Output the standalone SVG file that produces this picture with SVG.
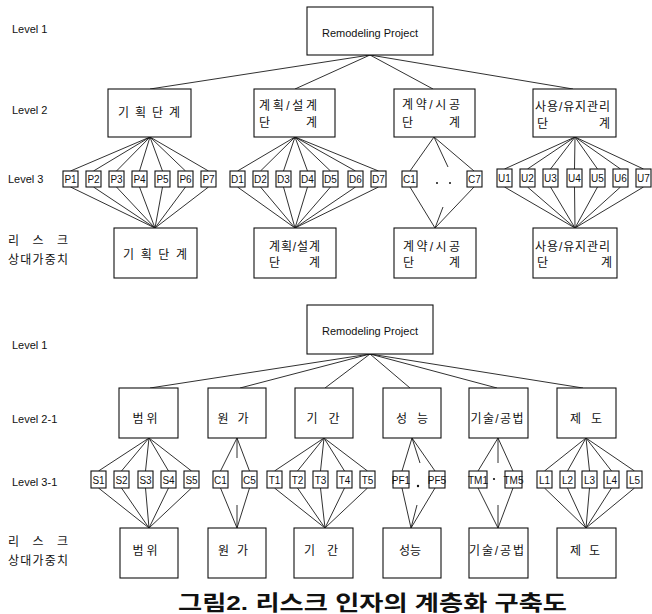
<svg xmlns="http://www.w3.org/2000/svg" width="652" height="614" viewBox="0 0 652 614">
<style>
.bg{fill:#fff}
.box{fill:#fff;stroke:#111;stroke-width:1.1}
.c line{stroke:#1a1a1a;stroke-width:0.9}
.lv{font-family:"Liberation Sans",Arial,sans-serif;font-size:11px;fill:#111}
.sm{font-family:"Liberation Sans",Arial,sans-serif;font-size:10px;fill:#111;text-anchor:middle}
.kr{font-family:"Liberation Sans","Noto Sans CJK KR",sans-serif;font-size:12px;fill:#111}
.km{font-family:"Liberation Sans","Noto Sans CJK KR",sans-serif;font-size:12px;fill:#111;text-anchor:middle}
.rt{font-family:"Liberation Sans",Arial,sans-serif;font-size:11px;fill:#111;text-anchor:middle}
.cap{font-family:"Liberation Sans","Noto Sans CJK KR",sans-serif;font-size:21px;font-weight:bold;fill:#111;text-anchor:middle}
.dot{fill:#111}
</style>
<rect class="bg" x="0" y="0" width="652" height="614"/>

<g id="labels">
<text class="lv" x="12" y="33">Level 1</text>
<text class="lv" x="12" y="114">Level 2</text>
<text class="lv" x="8" y="183">Level 3</text>
<text class="kr" x="8" y="245" font-size="13" textLength="60" lengthAdjust="spacing">리 스 크</text>
<text class="kr" x="8" y="264" textLength="60" lengthAdjust="spacing">상대가중치</text>
<text class="lv" x="12" y="349">Level 1</text>
<text class="lv" x="12" y="423">Level 2-1</text>
<text class="lv" x="12" y="486">Level 3-1</text>
<text class="kr" x="8" y="546" font-size="13" textLength="60" lengthAdjust="spacing">리 스 크</text>
<text class="kr" x="8" y="565" textLength="60" lengthAdjust="spacing">상대가중치</text>
</g>

<g id="connectors" class="c">
<line x1="370" y1="55" x2="150" y2="89"/>
<line x1="370" y1="55" x2="295" y2="89"/>
<line x1="370" y1="55" x2="433" y2="89"/>
<line x1="370" y1="55" x2="573" y2="89"/>
<line x1="150" y1="137" x2="70.5" y2="171"/>
<line x1="150" y1="137" x2="93.5" y2="171"/>
<line x1="150" y1="137" x2="116.5" y2="171"/>
<line x1="150" y1="137" x2="139.5" y2="171"/>
<line x1="150" y1="137" x2="162.5" y2="171"/>
<line x1="150" y1="137" x2="185.5" y2="171"/>
<line x1="150" y1="137" x2="208.5" y2="171"/>
<line x1="70.5" y1="187" x2="155" y2="228"/>
<line x1="93.5" y1="187" x2="155" y2="228"/>
<line x1="116.5" y1="187" x2="155" y2="228"/>
<line x1="139.5" y1="187" x2="155" y2="228"/>
<line x1="162.5" y1="187" x2="155" y2="228"/>
<line x1="185.5" y1="187" x2="155" y2="228"/>
<line x1="208.5" y1="187" x2="155" y2="228"/>
<line x1="295" y1="137" x2="237.5" y2="171"/>
<line x1="295" y1="137" x2="260.5" y2="171"/>
<line x1="295" y1="137" x2="283.5" y2="171"/>
<line x1="295" y1="137" x2="307.5" y2="171"/>
<line x1="295" y1="137" x2="330.5" y2="171"/>
<line x1="295" y1="137" x2="355.5" y2="171"/>
<line x1="295" y1="137" x2="378.5" y2="171"/>
<line x1="237.5" y1="187" x2="295" y2="228"/>
<line x1="260.5" y1="187" x2="295" y2="228"/>
<line x1="283.5" y1="187" x2="295" y2="228"/>
<line x1="307.5" y1="187" x2="295" y2="228"/>
<line x1="330.5" y1="187" x2="295" y2="228"/>
<line x1="355.5" y1="187" x2="295" y2="228"/>
<line x1="378.5" y1="187" x2="295" y2="228"/>
<line x1="434" y1="137" x2="410" y2="171"/>
<line x1="434" y1="137" x2="448" y2="167"/>
<line x1="434" y1="137" x2="474" y2="171"/>
<line x1="410" y1="187" x2="435" y2="228"/>
<line x1="443" y1="207" x2="435" y2="228"/>
<line x1="474" y1="187" x2="435" y2="228"/>
<line x1="575" y1="137" x2="504.5" y2="169"/>
<line x1="575" y1="137" x2="527.5" y2="169"/>
<line x1="575" y1="137" x2="550.5" y2="169"/>
<line x1="575" y1="137" x2="574.5" y2="169"/>
<line x1="575" y1="137" x2="597.5" y2="169"/>
<line x1="575" y1="137" x2="620.5" y2="169"/>
<line x1="575" y1="137" x2="643.5" y2="169"/>
<line x1="504.5" y1="187" x2="575" y2="228"/>
<line x1="527.5" y1="187" x2="575" y2="228"/>
<line x1="550.5" y1="187" x2="575" y2="228"/>
<line x1="574.5" y1="187" x2="575" y2="228"/>
<line x1="597.5" y1="187" x2="575" y2="228"/>
<line x1="620.5" y1="187" x2="575" y2="228"/>
<line x1="643.5" y1="187" x2="575" y2="228"/>

<line x1="370" y1="354" x2="150" y2="388"/>
<line x1="370" y1="354" x2="240" y2="388"/>
<line x1="370" y1="354" x2="325" y2="388"/>
<line x1="370" y1="354" x2="410" y2="388"/>
<line x1="370" y1="354" x2="497" y2="388"/>
<line x1="370" y1="354" x2="583" y2="388"/>
<line x1="149" y1="438" x2="98.5" y2="471"/>
<line x1="149" y1="438" x2="121.5" y2="471"/>
<line x1="149" y1="438" x2="145.5" y2="471"/>
<line x1="149" y1="438" x2="168.5" y2="471"/>
<line x1="149" y1="438" x2="191.5" y2="471"/>
<line x1="98.5" y1="488" x2="149" y2="528"/>
<line x1="121.5" y1="488" x2="149" y2="528"/>
<line x1="145.5" y1="488" x2="149" y2="528"/>
<line x1="168.5" y1="488" x2="149" y2="528"/>
<line x1="191.5" y1="488" x2="149" y2="528"/>
<line x1="237" y1="438" x2="220.5" y2="471"/>
<line x1="237" y1="438" x2="237" y2="458"/>
<line x1="237" y1="438" x2="249.5" y2="471"/>
<line x1="220.5" y1="488" x2="237" y2="528"/>
<line x1="237" y1="505" x2="237" y2="528"/>
<line x1="249.5" y1="488" x2="237" y2="528"/>
<line x1="324" y1="438" x2="274.5" y2="471"/>
<line x1="324" y1="438" x2="297.5" y2="471"/>
<line x1="324" y1="438" x2="320.5" y2="471"/>
<line x1="324" y1="438" x2="344.5" y2="471"/>
<line x1="324" y1="438" x2="367.5" y2="471"/>
<line x1="274.5" y1="488" x2="325" y2="528"/>
<line x1="297.5" y1="488" x2="325" y2="528"/>
<line x1="320.5" y1="488" x2="325" y2="528"/>
<line x1="344.5" y1="488" x2="325" y2="528"/>
<line x1="367.5" y1="488" x2="325" y2="528"/>
<line x1="412" y1="438" x2="402" y2="471"/>
<line x1="412" y1="438" x2="420" y2="463"/>
<line x1="412" y1="438" x2="435" y2="471"/>
<line x1="402" y1="488" x2="411" y2="528"/>
<line x1="417" y1="505" x2="411" y2="528"/>
<line x1="435" y1="488" x2="411" y2="528"/>
<line x1="498" y1="438" x2="478" y2="471"/>
<line x1="498" y1="438" x2="498" y2="463"/>
<line x1="498" y1="438" x2="513" y2="471"/>
<line x1="478" y1="488" x2="498" y2="528"/>
<line x1="498" y1="505" x2="498" y2="528"/>
<line x1="513" y1="488" x2="498" y2="528"/>
<line x1="586" y1="438" x2="544.5" y2="471"/>
<line x1="586" y1="438" x2="567.5" y2="471"/>
<line x1="586" y1="438" x2="589.5" y2="471"/>
<line x1="586" y1="438" x2="611.5" y2="471"/>
<line x1="586" y1="438" x2="634.5" y2="471"/>
<line x1="544.5" y1="488" x2="586" y2="528"/>
<line x1="567.5" y1="488" x2="586" y2="528"/>
<line x1="589.5" y1="488" x2="586" y2="528"/>
<line x1="611.5" y1="488" x2="586" y2="528"/>
<line x1="634.5" y1="488" x2="586" y2="528"/>
</g>

<g id="dots">
<circle class="dot" cx="437" cy="183" r="1"/>
<circle class="dot" cx="450" cy="183" r="1"/>
<circle class="dot" cx="244" cy="479" r="1.1"/>
<circle class="dot" cx="418" cy="486" r="1.2"/>
<circle class="dot" cx="494" cy="479" r="1.1"/>
</g>

<g id="root1"><rect class="box" x="307" y="7" width="126" height="48"/><text class="rt" x="370" y="37">Remodeling Project</text></g>

<g id="l2-plan"><rect class="box" x="108" y="89" width="83" height="48"/><text class="kr" x="118" y="117" textLength="62" lengthAdjust="spacing">기 획 단 계</text></g>
<g id="l2-design"><rect class="box" x="254" y="89" width="81" height="48"/><text class="kr" x="259" y="110" textLength="58" lengthAdjust="spacing">계획/설계</text><text class="kr" x="259" y="127" textLength="58" lengthAdjust="spacing">단 계</text></g>
<g id="l2-contract"><rect class="box" x="394" y="89" width="81" height="48"/><text class="kr" x="402" y="109" textLength="58" lengthAdjust="spacing">계약/시공</text><text class="kr" x="402" y="127" textLength="58" lengthAdjust="spacing">단 계</text></g>
<g id="l2-use"><rect class="box" x="533" y="89" width="83" height="48"/><text class="kr" x="535" y="111" textLength="75" lengthAdjust="spacing">사용/유지관리</text><text class="kr" x="537" y="128" textLength="73" lengthAdjust="spacing">단 계</text></g>

<g id="P1"><rect class="box" x="63" y="171" width="15" height="16"/><text class="sm" x="70.5" y="183">P1</text></g>
<g id="P2"><rect class="box" x="86" y="171" width="15" height="16"/><text class="sm" x="93.5" y="183">P2</text></g>
<g id="P3"><rect class="box" x="109" y="171" width="15" height="16"/><text class="sm" x="116.5" y="183">P3</text></g>
<g id="P4"><rect class="box" x="132" y="171" width="15" height="16"/><text class="sm" x="139.5" y="183">P4</text></g>
<g id="P5"><rect class="box" x="155" y="171" width="15" height="16"/><text class="sm" x="162.5" y="183">P5</text></g>
<g id="P6"><rect class="box" x="178" y="171" width="15" height="16"/><text class="sm" x="185.5" y="183">P6</text></g>
<g id="P7"><rect class="box" x="201" y="171" width="15" height="16"/><text class="sm" x="208.5" y="183">P7</text></g>
<g id="D1"><rect class="box" x="230" y="171" width="15" height="16"/><text class="sm" x="237.5" y="183">D1</text></g>
<g id="D2"><rect class="box" x="253" y="171" width="15" height="16"/><text class="sm" x="260.5" y="183">D2</text></g>
<g id="D3"><rect class="box" x="276" y="171" width="15" height="16"/><text class="sm" x="283.5" y="183">D3</text></g>
<g id="D4"><rect class="box" x="300" y="171" width="15" height="16"/><text class="sm" x="307.5" y="183">D4</text></g>
<g id="D5"><rect class="box" x="323" y="171" width="15" height="16"/><text class="sm" x="330.5" y="183">D5</text></g>
<g id="D6"><rect class="box" x="348" y="171" width="15" height="16"/><text class="sm" x="355.5" y="183">D6</text></g>
<g id="D7"><rect class="box" x="371" y="171" width="15" height="16"/><text class="sm" x="378.5" y="183">D7</text></g>
<g id="C1"><rect class="box" x="402" y="171" width="15" height="16"/><text class="sm" x="409.5" y="183">C1</text></g>
<g id="C7"><rect class="box" x="467" y="171" width="15" height="16"/><text class="sm" x="474.5" y="183">C7</text></g>
<g id="U1"><rect class="box" x="497" y="169" width="15" height="18"/><text class="sm" x="504.5" y="182">U1</text></g>
<g id="U2"><rect class="box" x="520" y="169" width="15" height="18"/><text class="sm" x="527.5" y="182">U2</text></g>
<g id="U3"><rect class="box" x="543" y="169" width="15" height="18"/><text class="sm" x="550.5" y="182">U3</text></g>
<g id="U4"><rect class="box" x="567" y="169" width="15" height="18"/><text class="sm" x="574.5" y="182">U4</text></g>
<g id="U5"><rect class="box" x="590" y="169" width="15" height="18"/><text class="sm" x="597.5" y="182">U5</text></g>
<g id="U6"><rect class="box" x="613" y="169" width="15" height="18"/><text class="sm" x="620.5" y="182">U6</text></g>
<g id="U7"><rect class="box" x="636" y="169" width="15" height="18"/><text class="sm" x="643.5" y="182">U7</text></g>

<g id="w-plan"><rect class="box" x="114" y="228" width="83" height="50"/><text class="kr" x="123" y="259" textLength="64" lengthAdjust="spacing">기 획 단 계</text></g>
<g id="w-design"><rect class="box" x="254" y="228" width="82" height="50"/><text class="kr" x="269" y="251" textLength="51" lengthAdjust="spacing">계획/설계</text><text class="kr" x="269" y="267" textLength="51" lengthAdjust="spacing">단 계</text></g>
<g id="w-contract"><rect class="box" x="394" y="228" width="82" height="50"/><text class="kr" x="403" y="251" textLength="57" lengthAdjust="spacing">계약/시공</text><text class="kr" x="403" y="267" textLength="57" lengthAdjust="spacing">단 계</text></g>
<g id="w-use"><rect class="box" x="533" y="228" width="84" height="50"/><text class="kr" x="535" y="251" textLength="75" lengthAdjust="spacing">사용/유지관리</text><text class="kr" x="537" y="267" textLength="75" lengthAdjust="spacing">단 계</text></g>

<g id="root2"><rect class="box" x="307" y="305" width="126" height="49"/><text class="rt" x="370" y="335">Remodeling Project</text></g>

<g id="l2-scope"><rect class="box" x="119" y="388" width="59" height="50"/><text class="km" x="145" y="423" textLength="25" lengthAdjust="spacing">범 위</text></g>
<g id="l2-cost"><rect class="box" x="208" y="388" width="58" height="50"/><text class="km" x="233" y="423" textLength="31" lengthAdjust="spacing">원 가</text></g>
<g id="l2-time"><rect class="box" x="295" y="388" width="58" height="50"/><text class="km" x="323" y="423" textLength="33" lengthAdjust="spacing">기 간</text></g>
<g id="l2-perf"><rect class="box" x="383" y="388" width="58" height="50"/><text class="km" x="412" y="423" textLength="32" lengthAdjust="spacing">성 능</text></g>
<g id="l2-tech"><rect class="box" x="469" y="388" width="59" height="50"/><text class="km" x="497" y="423" textLength="53" lengthAdjust="spacing">기술/공법</text></g>
<g id="l2-inst"><rect class="box" x="557" y="388" width="59" height="50"/><text class="km" x="586" y="423" textLength="32" lengthAdjust="spacing">제 도</text></g>

<g id="S1"><rect class="box" x="91" y="471" width="15" height="17"/><text class="sm" x="98.5" y="483.5">S1</text></g>
<g id="S2"><rect class="box" x="114" y="471" width="15" height="17"/><text class="sm" x="121.5" y="483.5">S2</text></g>
<g id="S3"><rect class="box" x="138" y="471" width="15" height="17"/><text class="sm" x="145.5" y="483.5">S3</text></g>
<g id="S4"><rect class="box" x="161" y="471" width="15" height="17"/><text class="sm" x="168.5" y="483.5">S4</text></g>
<g id="S5"><rect class="box" x="184" y="471" width="15" height="17"/><text class="sm" x="191.5" y="483.5">S5</text></g>
<g id="C1b"><rect class="box" x="213" y="471" width="15" height="17"/><text class="sm" x="220.5" y="483.5">C1</text></g>
<g id="C5b"><rect class="box" x="242" y="471" width="15" height="17"/><text class="sm" x="249.5" y="483.5">C5</text></g>
<g id="T1"><rect class="box" x="267" y="471" width="15" height="17"/><text class="sm" x="274.5" y="483.5">T1</text></g>
<g id="T2"><rect class="box" x="290" y="471" width="15" height="17"/><text class="sm" x="297.5" y="483.5">T2</text></g>
<g id="T3"><rect class="box" x="313" y="471" width="15" height="17"/><text class="sm" x="320.5" y="483.5">T3</text></g>
<g id="T4"><rect class="box" x="337" y="471" width="15" height="17"/><text class="sm" x="344.5" y="483.5">T4</text></g>
<g id="T5"><rect class="box" x="360" y="471" width="15" height="17"/><text class="sm" x="367.5" y="483.5">T5</text></g>
<g id="PF1"><rect class="box" x="393" y="471" width="16" height="17"/><text class="sm" x="401" y="483.5" font-size="9">PF1</text></g>
<g id="PF5"><rect class="box" x="429" y="471" width="16" height="17"/><text class="sm" x="437" y="483.5" font-size="9">PF5</text></g>
<g id="TM1"><rect class="box" x="469" y="471" width="18" height="17"/><text class="sm" x="478" y="483.5" font-size="9">TM1</text></g>
<g id="TM5"><rect class="box" x="505" y="471" width="17" height="17"/><text class="sm" x="513.5" y="483.5" font-size="9">TM5</text></g>
<g id="L1"><rect class="box" x="537" y="471" width="15" height="17"/><text class="sm" x="544.5" y="483.5">L1</text></g>
<g id="L2"><rect class="box" x="560" y="471" width="15" height="17"/><text class="sm" x="567.5" y="483.5">L2</text></g>
<g id="L3"><rect class="box" x="582" y="471" width="15" height="17"/><text class="sm" x="589.5" y="483.5">L3</text></g>
<g id="L4"><rect class="box" x="604" y="471" width="15" height="17"/><text class="sm" x="611.5" y="483.5">L4</text></g>
<g id="L5"><rect class="box" x="627" y="471" width="15" height="17"/><text class="sm" x="634.5" y="483.5">L5</text></g>

<g id="w-scope"><rect class="box" x="120" y="528" width="58" height="50"/><text class="km" x="145" y="555" textLength="25" lengthAdjust="spacing">범 위</text></g>
<g id="w-cost"><rect class="box" x="208" y="528" width="58" height="50"/><text class="km" x="233" y="555" textLength="30" lengthAdjust="spacing">원 가</text></g>
<g id="w-time"><rect class="box" x="294" y="528" width="59" height="50"/><text class="km" x="321" y="555" textLength="34" lengthAdjust="spacing">기 간</text></g>
<g id="w-perf"><rect class="box" x="383" y="528" width="58" height="50"/><text class="km" x="410" y="555" font-size="13">성능</text></g>
<g id="w-tech"><rect class="box" x="469" y="528" width="59" height="50"/><text class="km" x="496.5" y="555" textLength="55" lengthAdjust="spacing">기술/공법</text></g>
<g id="w-inst"><rect class="box" x="557" y="528" width="59" height="50"/><text class="km" x="585" y="555" textLength="30" lengthAdjust="spacing">제 도</text></g>

<text class="cap" x="372.5" y="610" textLength="389" lengthAdjust="spacingAndGlyphs">그림2. 리스크 인자의 계층화 구축도</text>
</svg>
